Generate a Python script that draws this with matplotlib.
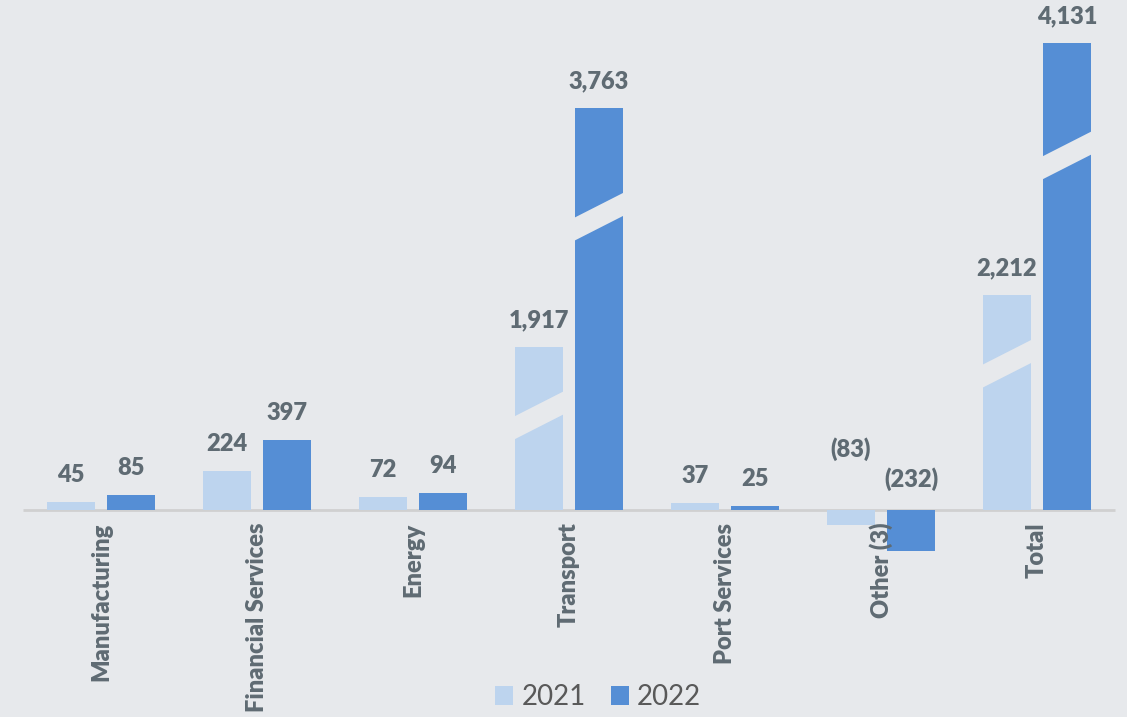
import matplotlib.pyplot as plt
from matplotlib.patches import Patch, Polygon

# data
categories = ["Manufacturing", "Financial Services", "Energy", "Transport",
              "Port Services", "Other (3)", "Total"]
values_2021 = [45, 224, 72, 1917, 37, -83, 2212]
values_2022 = [85, 397, 94, 3763, 25, -232, 4131]
labels_2021 = ["45", "224", "72", "1,917", "37", "(83)", "2,212"]
labels_2022 = ["85", "397", "94", "3,763", "25", "(232)", "4,131"]

# broken bars: amount cut out of the bar and where the break sits (fraction of drawn bar)
cut_2021 = [0, 0, 0, 990, 0, 0, 990]
cut_2022 = [0, 0, 0, 1480, 0, 0, 1480]
brk_2021 = [0, 0, 0, 0.58, 0, 0, 0.68]
brk_2022 = [0, 0, 0, 0.73, 0, 0, 0.76]

BG = "#E7E9EC"
C21 = "#BDD4EE"
C22 = "#558ED5"
TXT = "#5F6B73"

plt.rcParams['font.family'] = ['Lato', 'DejaVu Sans']

fig = plt.figure(figsize=(11.27, 7.17), dpi=100, facecolor=BG)
ax = fig.add_axes([0, 0, 1, 1])
ax.set_facecolor(BG)

px = 1 / 0.176  # data units per pixel
ax.set_ylim(-207 * px, 510 * px)
ax.set_xlim(-101 / 156, (1127 - 101) / 156)
xpx = 1 / 156

off = 30 * xpx
w = 48 * xpx
x = list(range(len(categories)))

ax.hlines(0, -0.5, 6.5, color="#D0D0D0", lw=2, zorder=1)

def draw_series(xs, vals, cuts, brks, labels, color, neg_off):
    shown = [v - c for v, c in zip(vals, cuts)]
    ax.bar(xs, shown, width=w, color=color, linewidth=0, zorder=2)
    for xi, h, b, lab in zip(xs, shown, brks, labels):
        if b:
            yc = h * b
            rise = 13 * px
            gap = 11.5 * px
            l, r = xi - w / 2 - 0.01, xi + w / 2 + 0.01
            poly = Polygon([(l, yc - rise - gap), (r, yc + rise - gap),
                            (r, yc + rise + gap), (l, yc - rise + gap)],
                           closed=True, facecolor=BG, edgecolor='none', zorder=3)
            ax.add_patch(poly)
        dy = 27 if h >= 0 else neg_off
        base = h if h >= 0 else 0
        ax.annotate(lab, (xi, base), xytext=(0, dy * 0.72), textcoords='offset points',
                    ha='center', va='center', fontsize=17, fontweight='heavy', color=TXT)

draw_series([i - off for i in x], values_2021, cut_2021, brk_2021, labels_2021, C21, 61)
draw_series([i + off for i in x], values_2022, cut_2022, brk_2022, labels_2022, C22, 31)

for i, cat in enumerate(categories):
    ax.annotate(cat, (i, 0), xytext=(0, -9), textcoords='offset points',
                rotation=90, ha='center', va='top', fontsize=17,
                fontweight='heavy', color=TXT, zorder=4)

ax.axis('off')

handles = [Patch(facecolor=C21, edgecolor='none', label='2021'),
           Patch(facecolor=C22, edgecolor='none', label='2022')]
fig.legend(handles=handles, loc='center', bbox_to_anchor=(598 / 1127, 20 / 717),
           ncol=2, frameon=False, fontsize=20, labelcolor="#595959",
           handlelength=0.65, handleheight=0.65, handletextpad=0.3,
           columnspacing=0.9, borderpad=0)

fig.savefig("out.png", dpi=100, facecolor=BG)
